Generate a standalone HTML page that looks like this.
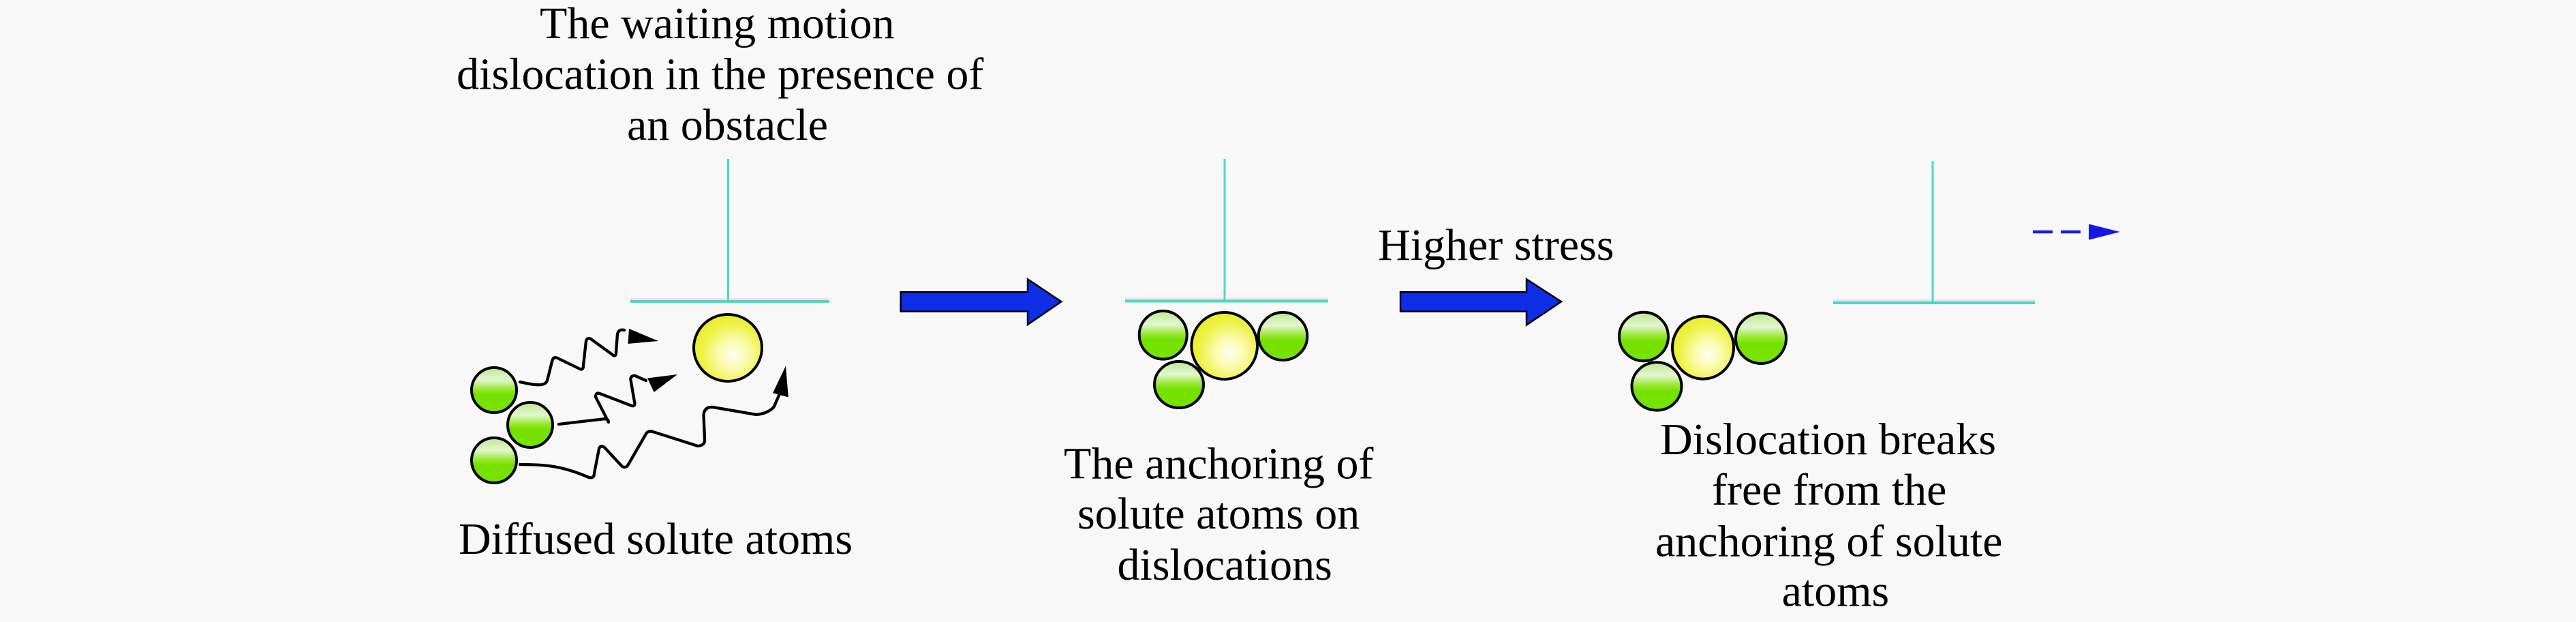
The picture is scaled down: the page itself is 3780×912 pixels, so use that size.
<!DOCTYPE html>
<html>
<head>
<meta charset="utf-8">
<style>
html,body{margin:0;padding:0;background:#f8f8f8;}
svg{display:block;}
text{font-family:"Liberation Serif","Times New Roman",serif;font-size:66px;fill:#000;}
</style>
</head>
<body>
<svg width="3780" height="912" viewBox="0 0 3780 912" xmlns="http://www.w3.org/2000/svg">
<defs>
  <linearGradient id="gG" x1="0" y1="0" x2="0" y2="1">
    <stop offset="0" stop-color="#bfe890"/>
    <stop offset="0.28" stop-color="#e2f6d0"/>
    <stop offset="0.48" stop-color="#98e830"/>
    <stop offset="0.6" stop-color="#74e000"/>
    <stop offset="1" stop-color="#78e400"/>
  </linearGradient>
  <radialGradient id="gY" cx="0.58" cy="0.6" r="0.6">
    <stop offset="0" stop-color="#fdfdf0"/>
    <stop offset="0.35" stop-color="#fbfbb0"/>
    <stop offset="0.75" stop-color="#eef248"/>
    <stop offset="1" stop-color="#e8ee2a"/>
  </radialGradient>
</defs>
<rect width="3780" height="912" fill="#f8f8f8"/>

<!-- Title -->
<text x="792" y="56">The waiting motion</text>
<text x="670" y="130.5">dislocation in the presence of</text>
<text x="920" y="205">an obstacle</text>

<!-- Dislocation 1 -->
<rect x="925" y="437" width="292" height="3" fill="#f6dcef"/>
<line x1="925" y1="442" x2="1217" y2="442" stroke="#45dcbc" stroke-width="4"/>
<line x1="1068.5" y1="233" x2="1068.5" y2="442" stroke="#45dcbc" stroke-width="3"/>

<!-- Atoms cluster 1 -->
<ellipse cx="1068" cy="510" rx="50" ry="49" fill="url(#gY)" stroke="#000" stroke-width="4"/>
<circle cx="725" cy="572" r="33" fill="url(#gG)" stroke="#000" stroke-width="4"/>
<circle cx="778" cy="623" r="33" fill="url(#gG)" stroke="#000" stroke-width="4"/>
<circle cx="725" cy="675" r="33" fill="url(#gG)" stroke="#000" stroke-width="4"/>

<!-- Wavy arrows -->
<g fill="none" stroke="#000" stroke-width="4.3" stroke-linejoin="round" stroke-linecap="round">
  <path d="M763,560 C785,565 800,567 803,558 L810,530 Q812,522 818,525 L851,541 Q856,543 856,536 L860,500 Q862,494 867,497 L900,521 Q904,523 904,517 L906,490 Q908,482 916,484"/>
  <path d="M820,622 L883,614.6 Q893,613 893,619 L874,582 Q874,575 880,577 L927,595 Q933,596 931,589 L925.3,556 Q926,550 932,551 L948,558"/>
  <path d="M763,681 C800,681 825,683 864,700 Q872,702 872,694 L879,658 Q881,652 887,656 L913,684 Q919,687 922,681 L948,636 Q951,631 958,633 L1024,654 Q1035,653 1034,644 L1032.5,608 Q1034,596 1046,597 L1110,608 Q1128,606 1136,596 L1145,575"/>
</g>
<polygon points="923,482 966,500 921.5,504" fill="#000"/>
<polygon points="950,554.5 994,549 959.7,575" fill="#000"/>
<polygon points="1153,536.5 1134,576.3 1156.8,582.4" fill="#000"/>

<text x="673" y="812">Diffused solute atoms</text>

<!-- Blue arrow 1 -->
<polygon points="1321.7,428.3 1508,428.3 1508,409.3 1557.3,442.3 1508,476 1508,456.7 1321.7,456.7" fill="#0e2ee6" stroke="#000" stroke-width="2.5" stroke-linejoin="miter"/>

<!-- Dislocation 2 -->
<rect x="1651" y="436.5" width="298" height="3" fill="#f6dcef"/>
<line x1="1651" y1="441.5" x2="1949" y2="441.5" stroke="#45dcbc" stroke-width="4"/>
<line x1="1797" y1="233" x2="1797" y2="441.5" stroke="#45dcbc" stroke-width="3"/>

<!-- Atoms cluster 2 -->
<ellipse cx="1706.7" cy="491.3" rx="35" ry="35.3" fill="url(#gG)" stroke="#000" stroke-width="4"/>
<ellipse cx="1882.5" cy="493" rx="35.8" ry="35" fill="url(#gG)" stroke="#000" stroke-width="4"/>
<ellipse cx="1730" cy="564" rx="36" ry="34" fill="url(#gG)" stroke="#000" stroke-width="4"/>
<ellipse cx="1796.7" cy="507" rx="48.3" ry="49" fill="url(#gY)" stroke="#000" stroke-width="4"/>

<text x="1561" y="701.5">The anchoring of</text>
<text x="1581" y="775">solute atoms on</text>
<text x="1639.5" y="850">dislocations</text>

<!-- Higher stress + arrow 2 -->
<text x="2022" y="381">Higher stress</text>
<polygon points="2055,428.3 2240,428.3 2240,409.3 2291,442.3 2240,476.5 2240,456.7 2055,456.7" fill="#0e2ee6" stroke="#000" stroke-width="2.5" stroke-linejoin="miter"/>

<!-- Atoms cluster 3 -->
<ellipse cx="2412" cy="493.5" rx="36" ry="35.7" fill="url(#gG)" stroke="#000" stroke-width="4"/>
<ellipse cx="2584" cy="496" rx="37" ry="37" fill="url(#gG)" stroke="#000" stroke-width="4"/>
<ellipse cx="2431" cy="566.4" rx="36.5" ry="35.2" fill="url(#gG)" stroke="#000" stroke-width="4"/>
<ellipse cx="2499" cy="509.6" rx="45" ry="46" fill="url(#gY)" stroke="#000" stroke-width="4"/>

<text x="2436" y="666">Dislocation breaks</text>
<text x="2512" y="740">free from the</text>
<text x="2429" y="815.7">anchoring of solute</text>
<text x="2614.6" y="888.6">atoms</text>

<!-- Dislocation 3 -->
<rect x="2690" y="439" width="296" height="3" fill="#f6dcef"/>
<line x1="2690" y1="444" x2="2986" y2="444" stroke="#45dcbc" stroke-width="4"/>
<line x1="2836" y1="236" x2="2836" y2="444" stroke="#45dcbc" stroke-width="3"/>

<!-- Dashed arrow -->
<line x1="2983" y1="340" x2="3012" y2="340" stroke="#1a1ae0" stroke-width="4.5"/>
<line x1="3024" y1="340" x2="3053" y2="340" stroke="#1a1ae0" stroke-width="4.5"/>
<polygon points="3065,328.5 3111,340 3065,351.7" fill="#1616e6"/>
</svg>
</body>
</html>
